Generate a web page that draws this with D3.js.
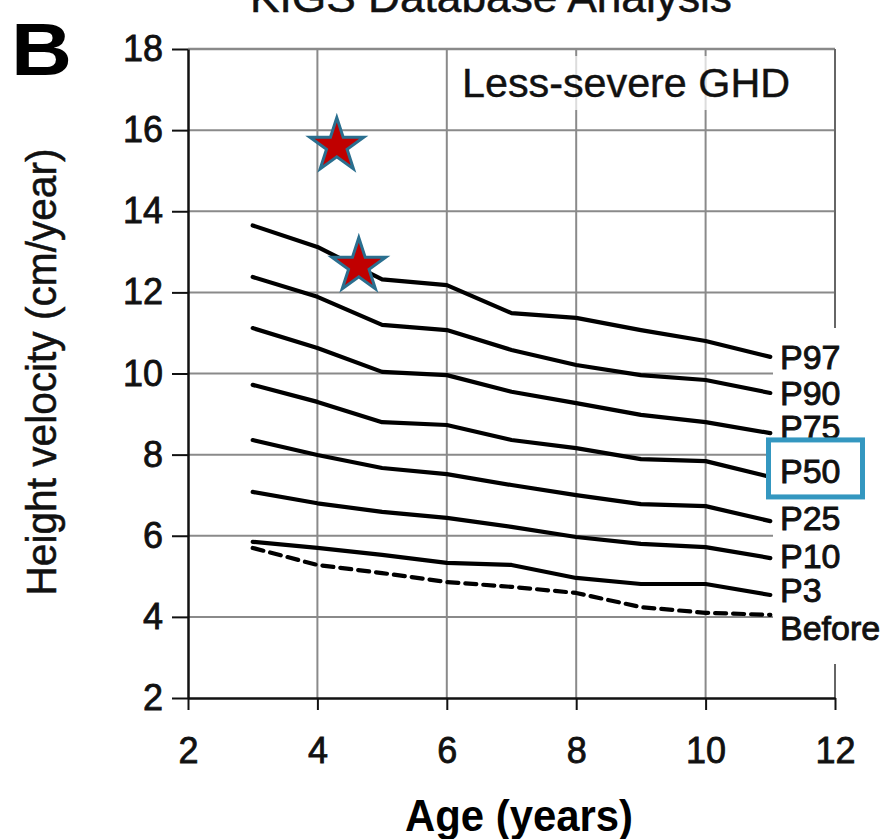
<!DOCTYPE html>
<html>
<head>
<meta charset="utf-8">
<script src="https://cdn.jsdelivr.net/npm/d3@7"></script>
<style>
  html, body { margin: 0; padding: 0; background: #ffffff; }
  svg { display: block; font-family: "Liberation Sans", Arial, Helvetica, sans-serif; }
</style>
</head>
<body>
<svg id="chart" width="891" height="839"></svg>
<script>
// ---- data ----
const ages   = [3, 4, 5, 6, 7, 8, 9, 10, 11];
const p97    = [13.65, 13.12, 12.32, 12.18, 11.49, 11.37, 11.07, 10.80, 10.41];
const p90    = [12.38, 11.89, 11.20, 11.07, 10.58, 10.21, 9.96, 9.84, 9.52];
const p75    = [11.12, 10.63, 10.04, 9.96, 9.55, 9.27, 8.98, 8.80, 8.53];
const p50    = [9.72, 9.30, 8.80, 8.73, 8.36, 8.16, 7.89, 7.84, 7.45];
const p25    = [8.36, 7.99, 7.67, 7.52, 7.25, 7.00, 6.78, 6.73, 6.36];
const p10    = [7.08, 6.80, 6.59, 6.44, 6.22, 5.97, 5.80, 5.72, 5.45];
const p3     = [5.85, 5.70, 5.53, 5.33, 5.28, 4.96, 4.81, 4.81, 4.54];
const before = [5.70, 5.28, 5.08, 4.86, 4.74, 4.59, 4.24, 4.10, 4.05];
const seriesNames = ["P97", "P90", "P75", "P50", "P25", "P10", "P3", "Before"];
const seriesValues = [p97, p90, p75, p50, p25, p10, p3, before];
const starAges = [4.30, 4.64];
const starValues = [15.61, 12.65];
const xTicks = [2, 4, 6, 8, 10, 12];
const yTicks = [2, 4, 6, 8, 10, 12, 14, 16, 18];
const highlighted = "P50";

// ---- layout ----
const svg = d3.select("#chart");
const x = d3.scaleLinear().domain([2, 12]).range([188, 835]);
const y = d3.scaleLinear().domain([2, 18]).range([698, 49]);
const labelNudge = { P97: 0, P90: 0, P75: -6, P50: -6, P25: -3, P10: -2, P3: -5, Before: 13 };
const gridColor = "#8a8a8a";

// title (cut off at the top)
svg.append("text")
  .attr("x", 491).attr("y", 12)
  .attr("text-anchor", "middle")
  .attr("font-size", 42)
  .attr("textLength", 482).attr("lengthAdjust", "spacingAndGlyphs")
  .attr("fill", "#111").attr("stroke", "#111").attr("stroke-width", 0.5)
  .text("KIGS Database Analysis");

// panel letter
svg.append("text")
  .attr("x", 11).attr("y", 75)
  .attr("font-size", 74).attr("font-weight", "bold")
  .attr("textLength", 61).attr("lengthAdjust", "spacingAndGlyphs")
  .attr("fill", "#000")
  .text("B");

// grid
const grid = svg.append("g");
grid.selectAll("line.h").data(yTicks.filter(d => d > 2 && d < 18)).join("line")
  .attr("x1", x(2)).attr("x2", x(12))
  .attr("y1", d => y(d)).attr("y2", d => y(d))
  .attr("stroke", gridColor).attr("stroke-width", 2);
grid.selectAll("line.v").data(xTicks.filter(d => d > 2 && d < 12)).join("line")
  .attr("x1", d => x(d)).attr("x2", d => x(d))
  .attr("y1", y(18)).attr("y2", y(2))
  .attr("stroke", gridColor).attr("stroke-width", 2);
// frame top + right
grid.append("line").attr("x1", x(2)).attr("x2", x(12)).attr("y1", y(18)).attr("y2", y(18))
  .attr("stroke", gridColor).attr("stroke-width", 2.5);
grid.append("line").attr("x1", x(12)).attr("x2", x(12)).attr("y1", y(18)).attr("y2", y(2))
  .attr("stroke", "#666").attr("stroke-width", 2);

// white area behind curve labels
svg.append("rect").attr("x", 773).attr("y", 328).attr("width", 118).attr("height", 336).attr("fill", "#fff");
// caption box behind "Less-severe GHD"
svg.append("rect").attr("x", 455).attr("y", 56).attr("width", 378).attr("height", 54)
  .attr("fill", "#fff").attr("opacity", 0.7);
svg.append("text")
  .attr("x", 462).attr("y", 97)
  .attr("font-size", 40)
  .attr("textLength", 328).attr("lengthAdjust", "spacingAndGlyphs")
  .attr("fill", "#111").attr("stroke", "#111").attr("stroke-width", 0.4)
  .text("Less-severe GHD");

// axes
const yAxis = svg.append("g").attr("transform", `translate(${x(2)},0)`)
  .call(d3.axisLeft(y).tickValues(yTicks).tickSize(16).tickSizeOuter(0).tickPadding(9));
const xAxis = svg.append("g").attr("transform", `translate(0,${y(2)})`)
  .call(d3.axisBottom(x).tickValues(xTicks).tickSize(12).tickSizeOuter(0).tickPadding(27));
[xAxis, yAxis].forEach(g => {
  g.select(".domain").attr("stroke", "#111").attr("stroke-width", 2.5);
  g.selectAll(".tick line").attr("stroke", "#111").attr("stroke-width", 2);
  g.selectAll(".tick text").attr("font-size", 36).attr("fill", "#111")
    .attr("font-family", "Liberation Sans, Arial, sans-serif")
    .attr("stroke", "#111").attr("stroke-width", 0.8);
});

// curves
const line = d3.line().x((d, i) => x(ages[i])).y(d => y(d)).curve(d3.curveLinear);
svg.append("g").selectAll("path").data(seriesValues).join("path")
  .attr("d", d => line(d))
  .attr("fill", "none")
  .attr("stroke", "#000")
  .attr("stroke-width", 4.2)
  .attr("stroke-linejoin", "round")
  .attr("stroke-linecap", "round")
  .attr("stroke-dasharray", (d, i) => seriesNames[i] === "Before" ? "11 7" : null);

// curve labels
const lab = svg.append("g");
seriesNames.forEach((name, i) => {
  const vals = seriesValues[i];
  const ly = y(vals[vals.length - 1]) + labelNudge[name];
  if (name === highlighted) {
    lab.append("rect")
      .attr("x", 768.5).attr("y", ly - 31).attr("width", 94).attr("height", 57)
      .attr("fill", "#fff").attr("stroke", "#3497c0").attr("stroke-width", 5);
  }
  lab.append("text")
    .attr("x", 780).attr("y", ly)
    .attr("dy", "0.36em")
    .attr("font-size", 34)
    .attr("fill", "#111").attr("stroke", "#111").attr("stroke-width", 0.9)
    .text(name);
});

// stars
const star = d3.symbol().type(d3.symbolStar).size(900);
svg.append("g").selectAll("path").data(starAges).join("path")
  .attr("transform", (d, i) => `translate(${x(d)},${y(starValues[i])})`)
  .attr("d", star)
  .attr("fill", "#c00000")
  .attr("stroke", "#2a6f8f")
  .attr("stroke-width", 3)
  .attr("stroke-linejoin", "miter");

// axis titles
svg.append("text")
  .attr("transform", "translate(56,372) rotate(-90)")
  .attr("text-anchor", "middle")
  .attr("font-size", 42)
  .attr("textLength", 447).attr("lengthAdjust", "spacingAndGlyphs")
  .attr("fill", "#111").attr("stroke", "#111").attr("stroke-width", 0.5)
  .text("Height velocity (cm/year)");
svg.append("text")
  .attr("x", 519).attr("y", 831)
  .attr("text-anchor", "middle")
  .attr("font-size", 44).attr("font-weight", "bold")
  .attr("textLength", 228).attr("lengthAdjust", "spacingAndGlyphs")
  .attr("fill", "#000")
  .text("Age (years)");
</script>
</body>
</html>
